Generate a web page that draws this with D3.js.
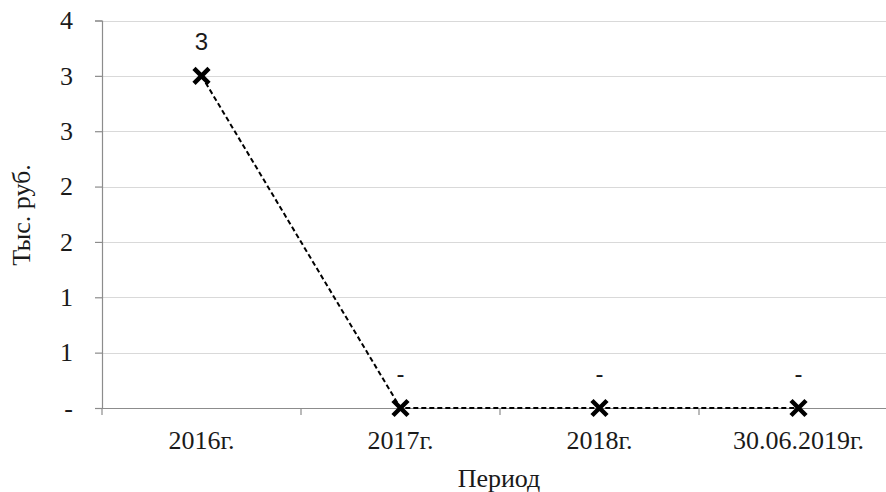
<!DOCTYPE html>
<html>
<head>
<meta charset="utf-8">
<script src="https://cdn.jsdelivr.net/npm/d3@7/dist/d3.min.js"></script>
<style>
  html, body { margin: 0; padding: 0; background: #fff; }
  svg { display: block; }
</style>
</head>
<body>
<svg id="chart" width="886" height="492"></svg>
<script>
const categories = ["2016г.", "2017г.", "2018г.", "30.06.2019г."];
const values = [3, 0, 0, 0];
const yTicks = [0, 0.5, 1, 1.5, 2, 2.5, 3, 3.5];
const yAxisTitle = "Тыс. руб.";
const xAxisTitle = "Период";

const fmt = v => (Math.abs(v) < 1e-9 ? "-" : String(Math.round(v)));

const svg = d3.select("#chart");
const margin = { left: 102, top: 20.5, bottom: 408 };
const plotRight = 898;

const x = d3.scaleBand().domain(categories).range([margin.left, plotRight]);
const y = d3.scaleLinear().domain([0, 3.5]).range([margin.bottom, margin.top]);

const serif = "'Liberation Serif', 'Times New Roman', serif";
const sans = "'Liberation Sans', Arial, sans-serif";
const axisCol = "#8c8c8c";
const textCol = "#1a1a1a";

// gridlines
svg.append("g").selectAll("line").data(yTicks.filter(t => t > 0)).join("line")
  .attr("x1", margin.left).attr("x2", plotRight)
  .attr("y1", d => Math.round(y(d)) + 0.5).attr("y2", d => Math.round(y(d)) + 0.5)
  .attr("stroke", "#d9d9d9").attr("stroke-width", 1.2);

// y axis
const yAxis = svg.append("g").attr("transform", `translate(${margin.left},0)`)
  .call(d3.axisLeft(y).tickValues(yTicks).tickFormat(fmt).tickSize(7).tickPadding(22));
yAxis.attr("font-size", null).attr("font-family", null);
yAxis.select(".domain").attr("stroke", axisCol).attr("stroke-width", 1.2);
yAxis.selectAll(".tick line").attr("stroke", axisCol).attr("stroke-width", 1.2);
yAxis.selectAll("text").style("font-family", serif).style("font-size", "26px").attr("fill", textCol);

// x axis
const xAxis = svg.append("g").attr("transform", `translate(0,${margin.bottom})`)
  .call(d3.axisBottom(x).tickSize(0).tickPadding(23));
xAxis.attr("font-size", null).attr("font-family", null);
xAxis.select(".domain").attr("stroke", axisCol).attr("stroke-width", 1.2);
xAxis.selectAll("text").style("font-family", serif).style("font-size", "26px").attr("fill", textCol);
// category boundary ticks
const bounds = categories.map(c => x(c)).concat([x(categories[categories.length - 1]) + x.bandwidth()]);
xAxis.selectAll(".btick").data(bounds).join("line").attr("class", "btick")
  .attr("x1", d => d).attr("x2", d => d).attr("y1", 0).attr("y2", 7)
  .attr("stroke", axisCol).attr("stroke-width", 1.2);

// line
const cx = c => x(c) + x.bandwidth() / 2;
const line = d3.line().x((d, i) => cx(categories[i])).y(d => y(d));
svg.append("path").datum(values).attr("d", line)
  .attr("fill", "none").attr("stroke", "#000").attr("stroke-width", 2).attr("stroke-dasharray", "5,3");

// markers
const s = 7.5;
const mk = svg.append("g").selectAll("g").data(values).join("g")
  .attr("transform", (d, i) => `translate(${cx(categories[i])},${y(d)})`);
mk.append("path").attr("d", `M${-s},${-s}L${s},${s}M${-s},${s}L${s},${-s}`)
  .attr("stroke", "#000").attr("stroke-width", 4.5).attr("fill", "none");

// data labels
svg.append("g").selectAll("text").data(values).join("text")
  .attr("x", (d, i) => cx(categories[i])).attr("y", d => y(d) - 26)
  .attr("text-anchor", "middle").style("font-family", sans).style("font-size", "24px").attr("fill", textCol)
  .text(fmt);

// axis titles
svg.append("text").attr("transform", `translate(30,215) rotate(-90)`)
  .attr("text-anchor", "middle").style("font-family", serif).style("font-size", "26px").attr("fill", textCol)
  .text(yAxisTitle);
svg.append("text").attr("x", 499).attr("y", 487)
  .attr("text-anchor", "middle").style("font-family", serif).style("font-size", "26px").attr("fill", textCol)
  .text(xAxisTitle);
</script>
</body>
</html>
